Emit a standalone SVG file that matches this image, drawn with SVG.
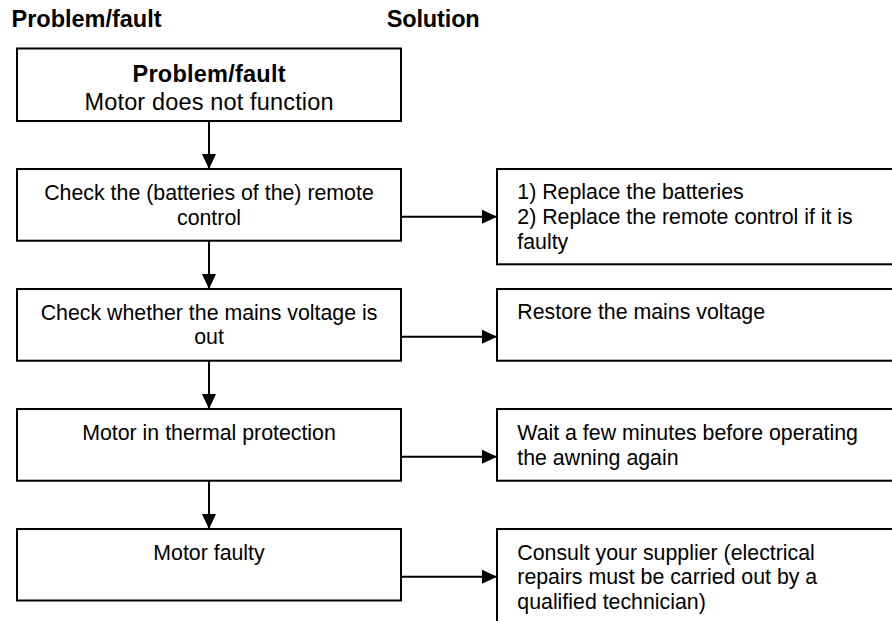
<svg xmlns="http://www.w3.org/2000/svg" width="892" height="621" viewBox="0 0 892 621">
<style>
  .box { fill: #ffffff; stroke: #000000; stroke-width: 2; }
  .t { font-family: "Liberation Sans", Arial, sans-serif; font-size: 21.33px; fill: #000000; }
  .c { text-anchor: middle; }
  .b { font-weight: bold; font-size: 23.5px; }
  .big { font-size: 23.5px; }
  .conn { stroke: #000000; stroke-width: 2; fill: none; marker-end: url(#ah); }
</style>
<defs>
  <marker id="ah" markerWidth="15" markerHeight="14" refX="15" refY="7" orient="auto" markerUnits="userSpaceOnUse">
    <path d="M0,0 L15,7 L0,14 z" fill="#000000"/>
  </marker>
</defs>
<rect x="0" y="0" width="892" height="621" fill="#ffffff"/>

<g id="headers">
  <text class="t b" x="11.5" y="26.7" textLength="150" lengthAdjust="spacing">Problem/fault</text>
  <text class="t b" x="386.7" y="27" textLength="93" lengthAdjust="spacing">Solution</text>
</g>

<g id="connectors">
  <line class="conn" x1="209" y1="121" x2="209" y2="169"/>
  <line class="conn" x1="209" y1="241" x2="209" y2="289"/>
  <line class="conn" x1="209" y1="361" x2="209" y2="409"/>
  <line class="conn" x1="209" y1="481" x2="209" y2="529"/>
  <line class="conn" x1="401" y1="216.7" x2="497" y2="216.7"/>
  <line class="conn" x1="401" y1="336.7" x2="497" y2="336.7"/>
  <line class="conn" x1="401" y1="456.7" x2="497" y2="456.7"/>
  <line class="conn" x1="401" y1="576.7" x2="497" y2="576.7"/>
</g>

<g id="problem">
  <rect class="box" x="17" y="48.5" width="384" height="72.5"/>
  <text class="t c b" x="209" y="82.3" textLength="153" lengthAdjust="spacing">Problem/fault</text>
  <text class="t c big" x="209" y="110" textLength="249" lengthAdjust="spacing">Motor does not function</text>
</g>

<g id="check-remote">
  <rect class="box" x="17" y="169" width="384" height="71.7"/>
  <text class="t c" x="209" y="200">Check the (batteries of the) remote</text>
  <text class="t c" x="209" y="224.5">control</text>
</g>

<g id="check-mains">
  <rect class="box" x="17" y="289" width="384" height="71.7"/>
  <text class="t c" x="209" y="319.5">Check whether the mains voltage is</text>
  <text class="t c" x="209" y="344">out</text>
</g>

<g id="thermal">
  <rect class="box" x="17" y="409" width="384" height="71.7"/>
  <text class="t c" x="209" y="439.5">Motor in thermal protection</text>
</g>

<g id="faulty">
  <rect class="box" x="17" y="529" width="384" height="71.5"/>
  <text class="t c" x="209" y="559.5">Motor faulty</text>
</g>

<g id="sol-remote">
  <rect class="box" x="497" y="169" width="420" height="95.3"/>
  <text class="t" x="517.3" y="199">1) Replace the batteries</text>
  <text class="t" x="517.3" y="224">2) Replace the remote control if it is</text>
  <text class="t" x="517.3" y="249">faulty</text>
</g>

<g id="sol-mains">
  <rect class="box" x="497" y="289" width="420" height="71.7"/>
  <text class="t" x="517.3" y="319.3">Restore the mains voltage</text>
</g>

<g id="sol-thermal">
  <rect class="box" x="497" y="409" width="420" height="71.7"/>
  <text class="t" x="517.3" y="440">Wait a few minutes before operating</text>
  <text class="t" x="517.3" y="464.5">the awning again</text>
</g>

<g id="sol-faulty">
  <rect class="box" x="497" y="529" width="420" height="120"/>
  <text class="t" x="517.3" y="559.5">Consult your supplier (electrical</text>
  <text class="t" x="517.3" y="584">repairs must be carried out by a</text>
  <text class="t" x="517.3" y="608.5">qualified technician)</text>
</g>
</svg>
